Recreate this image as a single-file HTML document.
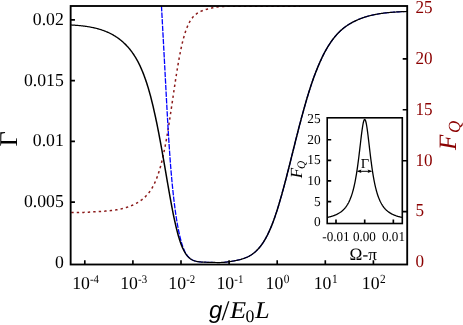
<!DOCTYPE html>
<html><head><meta charset="utf-8"><title>plot</title>
<style>
html,body{margin:0;padding:0;background:#fff;}
svg{display:block;will-change:transform;}
text{font-family:"Liberation Serif",serif;text-rendering:geometricPrecision;}
.i{font-style:italic;}
.s{font-family:"Liberation Sans",sans-serif;font-style:italic;}
</style></head><body>
<svg width="463" height="325" viewBox="0 0 463 325">
<rect width="463" height="325" fill="#fff"/>
<defs><clipPath id="c"><rect x="70.65" y="6.0" width="336.54999999999995" height="258.5"/></clipPath></defs>
<g clip-path="url(#c)" fill="none" stroke-linejoin="round">
<path d="M70.70,212.49 L70.95,212.49 L71.20,212.49 L71.45,212.49 L71.70,212.49 L71.95,212.49 L72.20,212.49 L72.45,212.49 L72.70,212.49 L72.95,212.49 L73.20,212.49 L73.45,212.49 L73.70,212.49 L73.95,212.49 L74.20,212.49 L74.45,212.49 L74.70,212.49 L74.95,212.49 L75.20,212.49 L75.45,212.49 L75.70,212.49 L75.95,212.49 L76.20,212.49 L76.45,212.49 L76.70,212.49 L76.95,212.49 L77.20,212.49 L77.45,212.48 L77.70,212.48 L77.95,212.48 L78.20,212.48 L78.45,212.48 L78.70,212.48 L78.95,212.48 L79.20,212.47 L79.45,212.47 L79.70,212.47 L79.95,212.47 L80.20,212.46 L80.45,212.46 L80.70,212.46 L80.95,212.45 L81.20,212.45 L81.45,212.44 L81.70,212.44 L81.95,212.43 L82.20,212.43 L82.45,212.42 L82.70,212.41 L82.95,212.41 L83.20,212.40 L83.45,212.39 L83.70,212.39 L83.95,212.38 L84.20,212.37 L84.45,212.36 L84.70,212.35 L84.95,212.34 L85.20,212.33 L85.45,212.32 L85.70,212.31 L85.95,212.30 L86.20,212.29 L86.45,212.28 L86.70,212.26 L86.95,212.25 L87.20,212.24 L87.45,212.23 L87.70,212.21 L87.95,212.20 L88.20,212.18 L88.45,212.17 L88.70,212.16 L88.95,212.14 L89.20,212.13 L89.45,212.11 L89.70,212.10 L89.95,212.08 L90.20,212.07 L90.45,212.05 L90.70,212.04 L90.95,212.02 L91.20,212.01 L91.45,211.99 L91.70,211.98 L91.95,211.96 L92.20,211.95 L92.45,211.93 L92.70,211.92 L92.95,211.90 L93.20,211.89 L93.45,211.87 L93.70,211.86 L93.95,211.84 L94.20,211.82 L94.45,211.81 L94.70,211.79 L94.95,211.78 L95.20,211.76 L95.45,211.75 L95.70,211.73 L95.95,211.72 L96.20,211.70 L96.45,211.69 L96.70,211.67 L96.95,211.66 L97.20,211.64 L97.45,211.62 L97.70,211.61 L97.95,211.59 L98.20,211.58 L98.45,211.56 L98.70,211.55 L98.95,211.53 L99.20,211.52 L99.45,211.50 L99.70,211.48 L99.95,211.47 L100.20,211.45 L100.45,211.44 L100.70,211.42 L100.95,211.40 L101.20,211.39 L101.45,211.37 L101.70,211.36 L101.95,211.34 L102.20,211.32 L102.45,211.31 L102.70,211.29 L102.95,211.27 L103.20,211.25 L103.45,211.24 L103.70,211.22 L103.95,211.20 L104.20,211.18 L104.45,211.16 L104.70,211.14 L104.95,211.13 L105.20,211.11 L105.45,211.09 L105.70,211.07 L105.95,211.05 L106.20,211.03 L106.45,211.01 L106.70,210.98 L106.95,210.96 L107.20,210.94 L107.45,210.92 L107.70,210.90 L107.95,210.87 L108.20,210.85 L108.45,210.83 L108.70,210.80 L108.95,210.78 L109.20,210.75 L109.45,210.73 L109.70,210.70 L109.95,210.68 L110.20,210.65 L110.45,210.62 L110.70,210.60 L110.95,210.57 L111.20,210.54 L111.45,210.51 L111.70,210.48 L111.95,210.45 L112.20,210.42 L112.45,210.39 L112.70,210.36 L112.95,210.33 L113.20,210.29 L113.45,210.26 L113.70,210.23 L113.95,210.19 L114.20,210.16 L114.45,210.12 L114.70,210.08 L114.95,210.05 L115.20,210.01 L115.45,209.97 L115.70,209.93 L115.95,209.89 L116.20,209.85 L116.45,209.81 L116.70,209.77 L116.95,209.72 L117.20,209.68 L117.45,209.64 L117.70,209.59 L117.95,209.55 L118.20,209.50 L118.45,209.45 L118.70,209.40 L118.95,209.35 L119.20,209.30 L119.45,209.25 L119.70,209.20 L119.95,209.15 L120.20,209.10 L120.45,209.04 L120.70,208.99 L120.95,208.93 L121.20,208.87 L121.45,208.82 L121.70,208.76 L121.95,208.70 L122.20,208.64 L122.45,208.58 L122.70,208.51 L122.95,208.45 L123.20,208.39 L123.45,208.32 L123.70,208.25 L123.95,208.19 L124.20,208.12 L124.45,208.05 L124.70,207.98 L124.95,207.91 L125.20,207.83 L125.45,207.76 L125.70,207.68 L125.95,207.61 L126.20,207.53 L126.45,207.45 L126.70,207.37 L126.95,207.29 L127.20,207.21 L127.45,207.13 L127.70,207.04 L127.95,206.96 L128.20,206.87 L128.45,206.78 L128.70,206.70 L128.95,206.61 L129.20,206.51 L129.45,206.42 L129.70,206.33 L129.95,206.23 L130.20,206.14 L130.45,206.04 L130.70,205.94 L130.95,205.84 L131.20,205.74 L131.45,205.63 L131.70,205.53 L131.95,205.42 L132.20,205.31 L132.45,205.20 L132.70,205.09 L132.95,204.98 L133.20,204.87 L133.45,204.75 L133.70,204.64 L133.95,204.52 L134.20,204.40 L134.45,204.27 L134.70,204.15 L134.95,204.03 L135.20,203.90 L135.45,203.77 L135.70,203.64 L135.95,203.51 L136.20,203.37 L136.45,203.24 L136.70,203.10 L136.95,202.96 L137.20,202.82 L137.45,202.67 L137.70,202.52 L137.95,202.38 L138.20,202.22 L138.45,202.07 L138.70,201.92 L138.95,201.76 L139.20,201.60 L139.45,201.44 L139.70,201.27 L139.95,201.10 L140.20,200.93 L140.45,200.76 L140.70,200.58 L140.95,200.40 L141.20,200.22 L141.45,200.04 L141.70,199.85 L141.95,199.66 L142.20,199.46 L142.45,199.27 L142.70,199.07 L142.95,198.86 L143.20,198.65 L143.45,198.44 L143.70,198.23 L143.95,198.01 L144.20,197.78 L144.45,197.56 L144.70,197.33 L144.95,197.09 L145.20,196.85 L145.45,196.61 L145.70,196.36 L145.95,196.10 L146.20,195.84 L146.45,195.58 L146.70,195.31 L146.95,195.04 L147.20,194.76 L147.45,194.47 L147.70,194.18 L147.95,193.88 L148.20,193.58 L148.45,193.27 L148.70,192.96 L148.95,192.63 L149.20,192.31 L149.45,191.97 L149.70,191.63 L149.95,191.28 L150.20,190.92 L150.45,190.55 L150.70,190.18 L150.95,189.80 L151.20,189.41 L151.45,189.01 L151.70,188.60 L151.95,188.19 L152.20,187.76 L152.45,187.33 L152.70,186.88 L152.95,186.43 L153.20,185.96 L153.45,185.49 L153.70,185.00 L153.95,184.50 L154.20,184.00 L154.45,183.47 L154.70,182.94 L154.95,182.40 L155.20,181.84 L155.45,181.27 L155.70,180.69 L155.95,180.09 L156.20,179.48 L156.45,178.86 L156.70,178.22 L156.95,177.57 L157.20,176.90 L157.45,176.22 L157.70,175.52 L157.95,174.80 L158.20,174.07 L158.45,173.33 L158.70,172.56 L158.95,171.78 L159.20,170.98 L159.45,170.16 L159.70,169.33 L159.95,168.48 L160.20,167.60 L160.45,166.71 L160.70,165.80 L160.95,164.87 L161.20,163.92 L161.45,162.95 L161.70,161.96 L161.95,160.95 L162.20,159.92 L162.45,158.87 L162.70,157.80 L162.95,156.70 L163.20,155.59 L163.45,154.45 L163.70,153.29 L163.95,152.11 L164.20,150.91 L164.45,149.69 L164.70,148.44 L164.95,147.17 L165.20,145.89 L165.45,144.58 L165.70,143.25 L165.95,141.89 L166.20,140.52 L166.45,139.13 L166.70,137.71 L166.95,136.28 L167.20,134.83 L167.45,133.36 L167.70,131.87 L167.95,130.36 L168.20,128.83 L168.45,127.29 L168.70,125.73 L168.95,124.15 L169.20,122.56 L169.45,120.95 L169.70,119.34 L169.95,117.70 L170.20,116.06 L170.45,114.41 L170.70,112.74 L170.95,111.07 L171.20,109.39 L171.45,107.70 L171.70,106.01 L171.95,104.31 L172.20,102.61 L172.45,100.91 L172.70,99.20 L172.95,97.50 L173.20,95.79 L173.45,94.09 L173.70,92.39 L173.95,90.70 L174.20,89.01 L174.45,87.33 L174.70,85.65 L174.95,83.99 L175.20,82.33 L175.45,80.69 L175.70,79.06 L175.95,77.44 L176.20,75.83 L176.45,74.25 L176.70,72.67 L176.95,71.12 L177.20,69.58 L177.45,68.06 L177.70,66.56 L177.95,65.08 L178.20,63.62 L178.45,62.19 L178.70,60.77 L178.95,59.38 L179.20,58.01 L179.45,56.66 L179.70,55.34 L179.95,54.04 L180.20,52.77 L180.45,51.52 L180.70,50.30 L180.95,49.10 L181.20,47.93 L181.45,46.78 L181.70,45.66 L181.95,44.56 L182.20,43.49 L182.45,42.44 L182.70,41.42 L182.95,40.42 L183.20,39.45 L183.45,38.50 L183.70,37.58 L183.95,36.68 L184.20,35.81 L184.45,34.96 L184.70,34.13 L184.95,33.32 L185.20,32.54 L185.45,31.78 L185.70,31.04 L185.95,30.32 L186.20,29.62 L186.45,28.94 L186.70,28.28 L186.95,27.65 L187.20,27.03 L187.45,26.43 L187.70,25.85 L187.95,25.28 L188.20,24.74 L188.45,24.21 L188.70,23.69 L188.95,23.20 L189.20,22.71 L189.45,22.25 L189.70,21.80 L189.95,21.36 L190.20,20.94 L190.45,20.53 L190.70,20.13 L190.95,19.75 L191.20,19.38 L191.45,19.02 L191.70,18.67 L191.95,18.33 L192.20,18.01 L192.45,17.69 L192.70,17.39 L192.95,17.09 L193.20,16.81 L193.45,16.53 L193.70,16.27 L193.95,16.01 L194.20,15.76 L194.45,15.51 L194.70,15.28 L194.95,15.05 L195.20,14.83 L195.45,14.62 L195.70,14.42 L195.95,14.22 L196.20,14.02 L196.45,13.84 L196.70,13.65 L196.95,13.48 L197.20,13.31 L197.45,13.14 L197.70,12.98 L197.95,12.83 L198.20,12.68 L198.45,12.53 L198.70,12.39 L198.95,12.25 L199.20,12.12 L199.45,11.99 L199.70,11.86 L199.95,11.74 L200.20,11.62 L200.45,11.50 L200.70,11.39 L200.95,11.28 L201.20,11.17 L201.45,11.06 L201.70,10.96 L201.95,10.86 L202.20,10.76 L202.45,10.67 L202.70,10.58 L202.95,10.48 L203.20,10.39 L203.45,10.31 L203.70,10.22 L203.95,10.14 L204.20,10.05 L204.45,9.97 L204.70,9.89 L204.95,9.82 L205.20,9.74 L205.45,9.66 L205.70,9.59 L205.95,9.51 L206.20,9.44 L206.45,9.37 L206.70,9.30 L206.95,9.23 L207.20,9.16 L207.45,9.09 L207.70,9.02 L207.95,8.96 L208.20,8.89 L208.45,8.83 L208.70,8.76 L208.95,8.70 L209.20,8.63 L209.45,8.57 L209.70,8.51 L209.95,8.44 L210.20,8.38 L210.45,8.32 L210.70,8.26 L210.95,8.20 L211.20,8.14 L211.45,8.08 L211.70,8.02 L211.95,7.96 L212.20,7.90 L212.45,7.85 L212.70,7.79 L212.95,7.74 L213.20,7.68 L213.45,7.63 L213.70,7.57 L213.95,7.52 L214.20,7.47 L214.45,7.42 L214.70,7.37 L214.95,7.32 L215.20,7.27 L215.45,7.22 L215.70,7.18 L215.95,7.13 L216.20,7.09 L216.45,7.05 L216.70,7.01 L216.95,6.97 L217.20,6.93 L217.45,6.89 L217.70,6.85 L217.95,6.82 L218.20,6.79 L218.45,6.76 L218.70,6.73 L218.95,6.70 L219.20,6.67 L219.45,6.65 L219.70,6.62 L219.95,6.60 L220.20,6.58 L220.45,6.56 L220.70,6.54 L220.95,6.52 L221.20,6.51 L221.45,6.49 L221.70,6.48 L221.95,6.47 L222.20,6.46 L222.45,6.44 L222.70,6.44 L222.95,6.43 L223.20,6.42 L223.45,6.41 L223.70,6.41 L223.95,6.40 L224.20,6.40 L224.45,6.39 L224.70,6.39 L224.95,6.39 L225.20,6.38 L225.45,6.38 L225.70,6.38 L225.95,6.38 L226.20,6.38 L226.45,6.37 L226.70,6.37 L226.95,6.37 L227.20,6.37 L227.45,6.37 L227.70,6.37 L227.95,6.37 L228.20,6.37 L228.45,6.37 L228.70,6.37 L228.95,6.37 L229.20,6.37 L229.45,6.37 L229.70,6.37 L229.95,6.37 L230.20,6.37 L230.45,6.37 L230.70,6.37 L230.95,6.37 L231.20,6.37 L231.45,6.37 L231.70,6.37 L231.95,6.37 L232.20,6.37 L232.45,6.37 L232.70,6.37 L232.95,6.37 L233.20,6.37 L233.45,6.37 L233.70,6.37 L233.95,6.37 L234.20,6.37 L234.45,6.37 L234.70,6.37 L234.95,6.37 L235.20,6.37 L235.45,6.37 L235.70,6.37 L235.95,6.37 L236.20,6.37 L236.45,6.37 L236.70,6.37 L236.95,6.37 L237.20,6.37 L237.45,6.37 L237.70,6.37 L237.95,6.37 L238.20,6.37 L238.45,6.37 L238.70,6.37 L238.95,6.37 L239.20,6.37 L239.45,6.37 L239.70,6.37 L239.95,6.37 L240.20,6.37 L240.45,6.37 L240.70,6.37 L240.95,6.37 L241.20,6.37 L241.45,6.37 L241.70,6.37 L241.95,6.37 L242.20,6.37 L242.45,6.37 L242.70,6.37 L242.95,6.37 L243.20,6.37 L243.45,6.37 L243.70,6.37 L243.95,6.37 L244.20,6.37 L244.45,6.37 L244.70,6.37 L244.95,6.37 L245.20,6.37 L245.45,6.37 L245.70,6.37 L245.95,6.37 L246.20,6.37 L246.45,6.37 L246.70,6.37 L246.95,6.37 L247.20,6.37 L247.45,6.37 L247.70,6.37 L247.95,6.37 L248.20,6.37 L248.45,6.37 L248.70,6.37 L248.95,6.37 L249.20,6.37 L249.45,6.37 L249.70,6.37 L249.95,6.37 L250.20,6.37 L250.45,6.37 L250.70,6.37 L250.95,6.37 L251.20,6.37 L251.45,6.37 L251.70,6.37 L251.95,6.37 L252.20,6.37 L252.45,6.37 L252.70,6.37 L252.95,6.37 L253.20,6.37 L253.45,6.37 L253.70,6.37 L253.95,6.37 L254.20,6.37 L254.45,6.37 L254.70,6.37 L254.95,6.37 L255.20,6.37 L255.45,6.37 L255.70,6.37 L255.95,6.37 L256.20,6.37 L256.45,6.37 L256.70,6.37 L256.95,6.37 L257.20,6.37 L257.45,6.37 L257.70,6.37 L257.95,6.37 L258.20,6.37 L258.45,6.37 L258.70,6.37 L258.95,6.37 L259.20,6.37 L259.45,6.37 L259.70,6.37 L259.95,6.37 L260.20,6.37 L260.45,6.37 L260.70,6.37 L260.95,6.37 L261.20,6.37 L261.45,6.37 L261.70,6.37 L261.95,6.37 L262.20,6.37 L262.45,6.37 L262.70,6.37 L262.95,6.37 L263.20,6.37 L263.45,6.37 L263.70,6.37 L263.95,6.37 L264.20,6.37 L264.45,6.37 L264.70,6.37 L264.95,6.37 L265.20,6.37 L265.45,6.37 L265.70,6.37 L265.95,6.37 L266.20,6.37 L266.45,6.37 L266.70,6.37 L266.95,6.37 L267.20,6.37 L267.45,6.37 L267.70,6.37 L267.95,6.37 L268.20,6.37 L268.45,6.37 L268.70,6.37 L268.95,6.37 L269.20,6.37 L269.45,6.37 L269.70,6.37 L269.95,6.37 L270.20,6.37 L270.45,6.37 L270.70,6.37 L270.95,6.37 L271.20,6.37 L271.45,6.37 L271.70,6.37 L271.95,6.37 L272.20,6.37 L272.45,6.37 L272.70,6.37 L272.95,6.37 L273.20,6.37 L273.45,6.37 L273.70,6.37 L273.95,6.37 L274.20,6.37 L274.45,6.37 L274.70,6.37 L274.95,6.37 L275.20,6.37 L275.45,6.37 L275.70,6.37 L275.95,6.37 L276.20,6.37 L276.45,6.37 L276.70,6.37 L276.95,6.37 L277.20,6.37 L277.45,6.37 L277.70,6.37 L277.95,6.37 L278.20,6.37 L278.45,6.37 L278.70,6.37 L278.95,6.37 L279.20,6.37 L279.45,6.37 L279.70,6.37 L279.95,6.37 L280.20,6.37 L280.45,6.37 L280.70,6.37 L280.95,6.37 L281.20,6.37 L281.45,6.37 L281.70,6.37 L281.95,6.37 L282.20,6.37 L282.45,6.37 L282.70,6.37 L282.95,6.37 L283.20,6.37 L283.45,6.37 L283.70,6.37 L283.95,6.37 L284.20,6.37 L284.45,6.37 L284.70,6.37 L284.95,6.37 L285.20,6.37 L285.45,6.37 L285.70,6.37 L285.95,6.37 L286.20,6.37 L286.45,6.37 L286.70,6.37 L286.95,6.37 L287.20,6.37 L287.45,6.37 L287.70,6.37 L287.95,6.37 L288.20,6.37 L288.45,6.37 L288.70,6.37 L288.95,6.37 L289.20,6.37 L289.45,6.37 L289.70,6.37 L289.95,6.37 L290.20,6.37 L290.45,6.37 L290.70,6.37 L290.95,6.37 L291.20,6.37 L291.45,6.37 L291.70,6.37 L291.95,6.37 L292.20,6.37 L292.45,6.37 L292.70,6.37 L292.95,6.37 L293.20,6.37 L293.45,6.37 L293.70,6.37 L293.95,6.37 L294.20,6.37 L294.45,6.37 L294.70,6.37 L294.95,6.37 L295.20,6.37 L295.45,6.37 L295.70,6.37 L295.95,6.37 L296.20,6.37 L296.45,6.37 L296.70,6.37 L296.95,6.37 L297.20,6.37 L297.45,6.37 L297.70,6.37 L297.95,6.37 L298.20,6.37 L298.45,6.37 L298.70,6.37 L298.95,6.37 L299.20,6.37 L299.45,6.37 L299.70,6.37 L299.95,6.37" stroke="#8b1a1a" stroke-width="1.5" stroke-dasharray="2.4 3.1" stroke-dashoffset="-0.55"/>
<path d="M161.37,4.00 L161.40,4.50 L161.42,5.00 L161.45,5.50 L161.48,6.00 L161.50,6.50 L161.53,7.00 L161.56,7.50 L161.58,8.00 L161.61,8.50 L161.64,9.00 L161.66,9.50 L161.69,10.00 L161.72,10.50 L161.74,11.00 L161.77,11.50 L161.80,12.00 L161.82,12.50 L161.85,13.00 L161.88,13.50 L161.90,14.00 L161.93,14.50 L161.96,15.00 L161.98,15.50 L162.01,16.00 L162.04,16.50 L162.06,17.00 L162.09,17.50 L162.12,18.00 L162.15,18.50 L162.17,19.00 L162.20,19.50 L162.23,20.00 L162.25,20.50 L162.28,21.00 L162.31,21.50 L162.33,22.00 L162.36,22.50 L162.39,23.00 L162.42,23.50 L162.44,24.00 L162.47,24.50 L162.50,25.00 L162.52,25.50 L162.55,26.00 L162.58,26.50 L162.61,27.00 L162.63,27.50 L162.66,28.00 L162.69,28.50 L162.71,29.00 L162.74,29.50 L162.77,30.00 L162.80,30.50 L162.82,31.00 L162.85,31.50 L162.88,32.00 L162.90,32.50 L162.93,33.00 L162.96,33.50 L162.99,34.00 L163.01,34.50 L163.04,35.00 L163.07,35.50 L163.09,36.00 L163.12,36.50 L163.15,37.00 L163.18,37.50 L163.20,38.00 L163.23,38.50 L163.26,39.00 L163.28,39.50 L163.31,40.00 L163.34,40.50 L163.36,41.00 L163.39,41.50 L163.42,42.00 L163.45,42.50 L163.47,43.00 L163.50,43.50 L163.53,44.00 L163.55,44.50 L163.58,45.00 L163.61,45.50 L163.63,46.00 L163.66,46.50 L163.69,47.00 L163.72,47.50 L163.74,48.00 L163.77,48.50 L163.80,49.00 L163.82,49.50 L163.85,50.00 L163.88,50.50 L163.90,51.00 L163.93,51.50 L163.96,52.00 L163.98,52.50 L164.01,53.00 L164.04,53.50 L164.06,54.00 L164.09,54.50 L164.12,55.00 L164.15,55.50 L164.17,56.00 L164.20,56.50 L164.23,57.00 L164.25,57.50 L164.28,58.00 L164.31,58.50 L164.33,59.00 L164.36,59.50 L164.39,60.00 L164.41,60.50 L164.44,61.00 L164.47,61.50 L164.49,62.00 L164.52,62.50 L164.55,63.00 L164.57,63.50 L164.60,64.00 L164.63,64.50 L164.65,65.00 L164.68,65.50 L164.70,66.00 L164.73,66.50 L164.76,67.00 L164.78,67.50 L164.81,68.00 L164.84,68.50 L164.86,69.00 L164.89,69.50 L164.92,70.00 L164.94,70.50 L164.97,71.00 L165.00,71.50 L165.02,72.00 L165.05,72.50 L165.08,73.00 L165.10,73.50 L165.13,74.00 L165.15,74.50 L165.18,75.00 L165.21,75.50 L165.23,76.00 L165.26,76.50 L165.29,77.00 L165.31,77.50 L165.34,78.00 L165.37,78.50 L165.39,79.00 L165.42,79.50 L165.44,80.00 L165.47,80.50 L165.50,81.00 L165.52,81.50 L165.55,82.00 L165.58,82.50 L165.60,83.00 L165.63,83.50 L165.66,84.00 L165.68,84.50 L165.71,85.00 L165.73,85.50 L165.76,86.00 L165.79,86.50 L165.81,87.00 L165.84,87.50 L165.87,88.00 L165.89,88.50 L165.92,89.00 L165.95,89.50 L165.97,90.00 L166.00,90.50 L166.02,91.00 L166.05,91.50 L166.08,92.00 L166.10,92.50 L166.13,93.00 L166.16,93.50 L166.18,94.00 L166.21,94.50 L166.24,95.00 L166.26,95.50 L166.29,96.00 L166.32,96.50 L166.34,97.00 L166.37,97.50 L166.40,98.00 L166.42,98.50 L166.45,99.00 L166.48,99.50 L166.50,100.00 L166.53,100.50 L166.56,101.00 L166.58,101.50 L166.61,102.00 L166.64,102.50 L166.66,103.00 L166.69,103.50 L166.72,104.00 L166.75,104.50 L166.77,105.00 L166.80,105.50 L166.83,106.00 L166.85,106.50 L166.88,107.00 L166.91,107.50 L166.93,108.00 L166.96,108.50 L166.99,109.00 L167.02,109.50 L167.04,110.00 L167.07,110.50 L167.10,111.00 L167.13,111.50 L167.15,112.00 L167.18,112.50 L167.21,113.00 L167.24,113.50 L167.26,114.00 L167.29,114.50 L167.32,115.00 L167.35,115.50 L167.38,116.00 L167.40,116.50 L167.43,117.00 L167.46,117.50 L167.49,118.00 L167.52,118.50 L167.54,119.00 L167.57,119.50 L167.60,120.00 L167.63,120.50 L167.66,121.00 L167.69,121.50 L167.71,122.00 L167.74,122.50 L167.77,123.00 L167.80,123.50 L167.83,124.00 L167.86,124.50 L167.89,125.00 L167.92,125.50 L167.95,126.00 L167.98,126.50 L168.00,127.00 L168.03,127.50 L168.06,128.00 L168.09,128.50 L168.12,129.00 L168.15,129.50 L168.18,130.00 L168.21,130.50 L168.24,131.00 L168.27,131.50 L168.30,132.00 L168.33,132.50 L168.36,133.00 L168.39,133.50 L168.42,134.00 L168.45,134.50 L168.48,135.00 L168.52,135.50 L168.55,136.00 L168.58,136.50 L168.61,137.00 L168.64,137.50 L168.67,138.00 L168.70,138.50 L168.73,139.00 L168.77,139.50 L168.80,140.00 L168.83,140.50 L168.86,141.00 L168.89,141.50 L168.93,142.00 L168.96,142.50 L168.99,143.00 L169.02,143.50 L169.06,144.00 L169.09,144.50 L169.12,145.00 L169.15,145.50 L169.19,146.00 L169.22,146.50 L169.25,147.00 L169.29,147.50 L169.32,148.00 L169.36,148.50 L169.39,149.00 L169.42,149.50 L169.46,150.00 L169.49,150.50 L169.53,151.00 L169.56,151.50 L169.60,152.00 L169.63,152.50 L169.67,153.00 L169.70,153.50 L169.74,154.00 L169.77,154.50 L169.81,155.00 L169.85,155.50 L169.88,156.00 L169.92,156.50 L169.95,157.00 L169.99,157.50 L170.03,158.00 L170.06,158.50 L170.10,159.00 L170.14,159.50 L170.18,160.00 L170.21,160.50 L170.25,161.00 L170.29,161.50 L170.33,162.00 L170.37,162.50 L170.41,163.00 L170.44,163.50 L170.48,164.00 L170.52,164.50 L170.56,165.00 L170.60,165.50 L170.64,166.00 L170.68,166.50 L170.72,167.00 L170.76,167.50 L170.80,168.00 L170.84,168.50 L170.88,169.00 L170.92,169.50 L170.97,170.00 L171.01,170.50 L171.05,171.00 L171.09,171.50 L171.13,172.00 L171.18,172.50 L171.22,173.00 L171.26,173.50 L171.31,174.00 L171.35,174.50 L171.39,175.00 L171.44,175.50 L171.48,176.00 L171.53,176.50 L171.57,177.00 L171.62,177.50 L171.66,178.00 L171.71,178.50 L171.75,179.00 L171.80,179.50 L171.84,180.00 L171.89,180.50 L171.94,181.00 L171.98,181.50 L172.03,182.00 L172.08,182.50 L172.13,183.00 L172.17,183.50 L172.22,184.00 L172.27,184.50 L172.32,185.00 L172.37,185.50 L172.42,186.00 L172.47,186.50 L172.52,187.00 L172.57,187.50 L172.62,188.00 L172.67,188.50 L172.72,189.00 L172.77,189.50 L172.82,190.00 L172.88,190.50 L172.93,191.00 L172.98,191.50 L173.03,192.00 L173.09,192.50 L173.14,193.00 L173.19,193.50 L173.25,194.00 L173.30,194.50 L173.36,195.00 L173.41,195.50 L173.47,196.00 L173.53,196.50 L173.58,197.00 L173.64,197.50 L173.70,198.00 L173.75,198.50 L173.81,199.00 L173.87,199.50 L173.93,200.00 L173.99,200.50 L174.04,201.00 L174.10,201.50 L174.16,202.00 L174.23,202.50 L174.29,203.00 L174.35,203.50 L174.41,204.00 L174.47,204.50 L174.53,205.00 L174.60,205.50 L174.66,206.00 L174.73,206.50 L174.79,207.00 L174.85,207.50 L174.92,208.00 L174.99,208.50 L175.05,209.00 L175.12,209.50 L175.19,210.00 L175.26,210.50 L175.33,211.00 L175.40,211.50 L175.46,212.00 L175.53,212.50 L175.61,213.00 L175.68,213.50 L175.75,214.00 L175.82,214.50 L175.90,215.00 L175.97,215.50 L176.05,216.00 L176.12,216.50 L176.20,217.00 L176.28,217.50 L176.36,218.00 L176.43,218.50 L176.51,219.00 L176.59,219.50 L176.67,220.00 L176.76,220.50 L176.84,221.00 L176.92,221.50 L177.01,222.00 L177.09,222.50 L177.18,223.00 L177.26,223.50 L177.35,224.00 L177.44,224.50 L177.53,225.00 L177.62,225.50 L177.71,226.00 L177.80,226.50 L177.89,227.00 L177.99,227.50 L178.08,228.00 L178.18,228.50 L178.27,229.00 L178.37,229.50 L178.47,230.00 L178.57,230.50 L178.67,231.00 L178.77,231.50 L178.88,232.00 L178.98,232.50 L179.09,233.00 L179.20,233.50 L179.31,234.00 L179.42,234.50 L179.53,235.00 L179.65,235.50 L179.76,236.00 L179.88,236.50 L180.00,237.00 L180.12,237.50 L180.24,238.00 L180.37,238.50 L180.49,239.00 L180.62,239.50 L180.75,240.00 L180.89,240.50 L181.02,241.00 L181.16,241.50 L181.30,242.00 L181.44,242.50 L181.59,243.00 L181.74,243.50 L181.89,244.00 L182.05,244.50 L182.21,245.00 L182.38,245.50 L182.55,246.00 L182.72,246.50 L182.91,247.00 L183.09,247.50 L183.28,248.00 L183.48,248.50 L183.68,249.00 L183.89,249.50 L184.11,250.00 L184.34,250.50 L184.57,251.00 L184.81,251.50 L185.06,252.00 L185.33,252.50 L185.61,253.00 L185.90,253.50 L186.20,254.00 L186.53,254.50 L186.87,255.00 L187.24,255.50 L187.63,256.00 L188.06,256.50 L188.51,257.00 L189.00,257.50 L189.54,258.00 L190.14,258.50 L190.81,259.00 L191.58,259.50 L192.49,260.00 L193.60,260.50 L195.03,261.00 L197.11,261.50" stroke="#0000ff" stroke-width="1.3" stroke-dasharray="5.4 1.185" stroke-dashoffset="-2.0"/>
<g transform="scale(1,0.82)">
<path d="M197.41,318.97 L197.91,319.07 L198.41,319.16 L198.91,319.24 L199.41,319.31 L199.91,319.37 L200.41,319.43 L200.91,319.49 L201.41,319.54 L201.91,319.58 L202.41,319.62 L202.91,319.65 L203.41,319.68 L203.91,319.71 L204.41,319.74 L204.91,319.76 L205.41,319.78 L205.91,319.80 L206.41,319.81 L206.91,319.83 L207.41,319.84 L207.91,319.86 L208.41,319.87 L208.91,319.89 L209.41,319.90 L209.91,319.92 L210.41,319.93 L210.91,319.95 L211.41,319.97 L211.91,319.98 L212.41,320.00 L212.91,320.02 L213.41,320.04 L213.91,320.05 L214.41,320.07 L214.91,320.09 L215.41,320.10 L215.91,320.12 L216.41,320.13 L216.91,320.14 L217.41,320.15 L217.91,320.15 L218.41,320.16 L218.91,320.16 L219.41,320.15 L219.91,320.14 L220.41,320.13 L220.91,320.11 L221.41,320.09 L221.91,320.06 L222.41,320.03 L222.91,319.99 L223.41,319.95 L223.91,319.90 L224.41,319.85 L224.91,319.79 L225.41,319.73 L225.91,319.66 L226.41,319.59 L226.91,319.52 L227.41,319.44 L227.91,319.36 L228.41,319.27 L228.91,319.18 L229.41,319.09 L229.91,319.00 L230.41,318.91 L230.91,318.81 L231.41,318.71 L231.91,318.61 L232.41,318.50 L232.91,318.40 L233.41,318.29 L233.91,318.18 L234.41,318.07 L234.91,317.96 L235.41,317.84 L235.91,317.72 L236.41,317.59 L236.91,317.47 L237.41,317.34 L237.91,317.20 L238.41,317.06 L238.91,316.92 L239.41,316.77 L239.91,316.61 L240.41,316.45 L240.91,316.29 L241.41,316.11 L241.91,315.94 L242.41,315.75 L242.91,315.55 L243.41,315.35 L243.91,315.14 L244.41,314.92 L244.91,314.69 L245.41,314.45 L245.91,314.20 L246.41,313.94 L246.91,313.67 L247.41,313.39 L247.91,313.10 L248.41,312.79 L248.91,312.48 L249.41,312.14 L249.91,311.80 L250.41,311.44 L250.91,311.07 L251.41,310.68 L251.91,310.27 L252.41,309.85 L252.91,309.41 L253.41,308.96 L253.91,308.49 L254.41,307.99 L254.91,307.48 L255.41,306.95 L255.91,306.40 L256.41,305.83 L256.91,305.24 L257.41,304.62 L257.91,303.99 L258.41,303.32 L258.91,302.64 L259.41,301.93 L259.91,301.19 L260.41,300.43 L260.91,299.64 L261.41,298.83 L261.91,297.98 L262.41,297.11 L262.91,296.21 L263.41,295.28 L263.91,294.31 L264.41,293.32 L264.91,292.30 L265.41,291.24 L265.91,290.15 L266.41,289.03 L266.91,287.87 L267.41,286.68 L267.91,285.45 L268.41,284.19 L268.91,282.89 L269.41,281.56 L269.91,280.19 L270.41,278.79 L270.91,277.34 L271.41,275.86 L271.91,274.35 L272.41,272.79 L272.91,271.20 L273.41,269.57 L273.91,267.91 L274.41,266.20 L274.91,264.46 L275.41,262.68 L275.91,260.87 L276.41,259.02 L276.91,257.13 L277.41,255.21 L277.91,253.25 L278.41,251.26 L278.91,249.23 L279.41,247.18 L279.91,245.10 L280.41,243.00 L280.91,240.87 L281.41,238.73 L281.91,236.56 L282.41,234.37 L282.91,232.17 L283.41,229.95 L283.91,227.71 L284.41,225.45 L284.91,223.16 L285.41,220.85 L285.91,218.53 L286.41,216.19 L286.91,213.83 L287.41,211.45 L287.91,209.06 L288.41,206.66 L288.91,204.25 L289.41,201.82 L289.91,199.39 L290.41,196.95 L290.91,194.50 L291.41,192.05 L291.91,189.60 L292.41,187.14 L292.91,184.69 L293.41,182.24 L293.91,179.79 L294.41,177.34 L294.91,174.90 L295.41,172.47 L295.91,170.05 L296.41,167.63 L296.91,165.22 L297.41,162.83 L297.91,160.44 L298.41,158.07 L298.91,155.71 L299.41,153.36 L299.91,151.03 L300.41,148.72 L300.91,146.42 L301.41,144.14 L301.91,141.88 L302.41,139.64 L302.91,137.41 L303.41,135.19 L303.91,132.99 L304.41,130.82 L304.91,128.66 L305.41,126.51 L305.91,124.39 L306.41,122.29 L306.91,120.22 L307.41,118.17 L307.91,116.15 L308.41,114.16 L308.91,112.19 L309.41,110.25 L309.91,108.34 L310.41,106.46 L310.91,104.60 L311.41,102.77 L311.91,100.97 L312.41,99.20 L312.91,97.46 L313.41,95.74 L313.91,94.05 L314.41,92.39 L314.91,90.76 L315.41,89.16 L315.91,87.58 L316.41,86.03 L316.91,84.51 L317.41,83.01 L317.91,81.53 L318.41,80.08 L318.91,78.65 L319.41,77.24 L319.91,75.85 L320.41,74.48 L320.91,73.14 L321.41,71.82 L321.91,70.52 L322.41,69.25 L322.91,68.00 L323.41,66.78 L323.91,65.59 L324.41,64.42 L324.91,63.27 L325.41,62.15 L325.91,61.05 L326.41,59.97 L326.91,58.91 L327.41,57.88 L327.91,56.87 L328.41,55.88 L328.91,54.91 L329.41,53.96 L329.91,53.04 L330.41,52.13 L330.91,51.24 L331.41,50.37 L331.91,49.52 L332.41,48.69 L332.91,47.87 L333.41,47.08 L333.91,46.30 L334.41,45.54 L334.91,44.79 L335.41,44.07 L335.91,43.35 L336.41,42.66 L336.91,41.98 L337.41,41.31 L337.91,40.66 L338.41,40.02 L338.91,39.40 L339.41,38.80 L339.91,38.20 L340.41,37.63 L340.91,37.07 L341.41,36.52 L341.91,35.99 L342.41,35.47 L342.91,34.96 L343.41,34.46 L343.91,33.98 L344.41,33.51 L344.91,33.05 L345.41,32.60 L345.91,32.16 L346.41,31.72 L346.91,31.30 L347.41,30.89 L347.91,30.49 L348.41,30.10 L348.91,29.72 L349.41,29.34 L349.91,28.98 L350.41,28.62 L350.91,28.27 L351.41,27.93 L351.91,27.60 L352.41,27.27 L352.91,26.96 L353.41,26.65 L353.91,26.34 L354.41,26.04 L354.91,25.75 L355.41,25.46 L355.91,25.17 L356.41,24.89 L356.91,24.61 L357.41,24.33 L357.91,24.06 L358.41,23.80 L358.91,23.54 L359.41,23.29 L359.91,23.04 L360.41,22.80 L360.91,22.56 L361.41,22.33 L361.91,22.11 L362.41,21.89 L362.91,21.67 L363.41,21.46 L363.91,21.25 L364.41,21.05 L364.91,20.86 L365.41,20.67 L365.91,20.48 L366.41,20.29 L366.91,20.11 L367.41,19.94 L367.91,19.77 L368.41,19.60 L368.91,19.44 L369.41,19.28 L369.91,19.12 L370.41,18.97 L370.91,18.82 L371.41,18.68 L371.91,18.54 L372.41,18.40 L372.91,18.26 L373.41,18.13 L373.91,18.01 L374.41,17.88 L374.91,17.76 L375.41,17.64 L375.91,17.52 L376.41,17.41 L376.91,17.29 L377.41,17.18 L377.91,17.08 L378.41,16.97 L378.91,16.87 L379.41,16.77 L379.91,16.67 L380.41,16.58 L380.91,16.48 L381.41,16.39 L381.91,16.30 L382.41,16.22 L382.91,16.13 L383.41,16.05 L383.91,15.97 L384.41,15.89 L384.91,15.82 L385.41,15.75 L385.91,15.68 L386.41,15.61 L386.91,15.55 L387.41,15.48 L387.91,15.43 L388.41,15.37 L388.91,15.31 L389.41,15.26 L389.91,15.20 L390.41,15.15 L390.91,15.10 L391.41,15.05 L391.91,15.00 L392.41,14.95 L392.91,14.90 L393.41,14.86 L393.91,14.82 L394.41,14.77 L394.91,14.73 L395.41,14.69 L395.91,14.65 L396.41,14.61 L396.91,14.57 L397.41,14.54 L397.91,14.50 L398.41,14.46 L398.91,14.43 L399.41,14.40 L399.91,14.36 L400.41,14.33 L400.91,14.30 L401.41,14.27 L401.91,14.24 L402.41,14.21 L402.91,14.19 L403.41,14.16 L403.91,14.13 L404.41,14.11 L404.91,14.08 L405.41,14.06 L405.91,14.04 L406.41,14.01 L406.91,13.99 L407.41,13.97" stroke="#0000ff" stroke-width="1.3" stroke-dasharray="5.4 1.185"/>
<path d="M68.99,30.35 L69.49,30.38 L69.99,30.41 L70.48,30.44 L70.98,30.47 L71.48,30.50 L71.98,30.54 L72.48,30.57 L72.98,30.61 L73.48,30.65 L73.98,30.69 L74.48,30.73 L74.98,30.77 L75.48,30.82 L75.98,30.86 L76.48,30.91 L76.98,30.96 L77.47,31.01 L77.97,31.06 L78.47,31.11 L78.97,31.17 L79.47,31.23 L79.97,31.28 L80.47,31.35 L80.97,31.41 L81.47,31.47 L81.97,31.54 L82.47,31.61 L82.96,31.68 L83.46,31.76 L83.96,31.83 L84.46,31.91 L84.96,31.99 L85.46,32.07 L85.96,32.16 L86.46,32.25 L86.96,32.34 L87.45,32.43 L87.95,32.53 L88.45,32.63 L88.95,32.73 L89.45,32.83 L89.95,32.94 L90.45,33.05 L90.94,33.17 L91.44,33.28 L91.94,33.40 L92.44,33.53 L92.94,33.65 L93.44,33.79 L93.93,33.92 L94.43,34.06 L94.93,34.20 L95.43,34.34 L95.93,34.49 L96.43,34.65 L96.92,34.80 L97.42,34.96 L97.92,35.13 L98.42,35.30 L98.92,35.47 L99.41,35.65 L99.91,35.83 L100.41,36.02 L100.91,36.21 L101.41,36.41 L101.90,36.61 L102.40,36.82 L102.90,37.03 L103.40,37.25 L103.90,37.47 L104.39,37.70 L104.89,37.93 L105.39,38.17 L105.89,38.41 L106.38,38.66 L106.88,38.92 L107.38,39.18 L107.88,39.45 L108.38,39.72 L108.87,40.00 L109.37,40.29 L109.87,40.58 L110.37,40.88 L110.86,41.19 L111.36,41.51 L111.86,41.83 L112.36,42.16 L112.85,42.49 L113.35,42.84 L113.85,43.19 L114.35,43.55 L114.84,43.92 L115.34,44.30 L115.84,44.68 L116.34,45.08 L116.83,45.48 L117.33,45.89 L117.83,46.32 L118.32,46.75 L118.82,47.19 L119.32,47.64 L119.82,48.11 L120.31,48.58 L120.81,49.06 L121.31,49.56 L121.81,50.06 L122.30,50.58 L122.80,51.11 L123.30,51.66 L123.80,52.21 L124.29,52.78 L124.79,53.36 L125.29,53.96 L125.79,54.57 L126.29,55.19 L126.78,55.83 L127.28,56.49 L127.78,57.16 L128.28,57.85 L128.78,58.55 L129.27,59.28 L129.77,60.02 L130.27,60.78 L130.77,61.55 L131.27,62.35 L131.77,63.17 L132.27,64.01 L132.76,64.87 L133.26,65.75 L133.76,66.66 L134.26,67.59 L134.76,68.54 L135.26,69.52 L135.76,70.53 L136.26,71.56 L136.75,72.62 L137.25,73.71 L137.75,74.83 L138.24,75.98 L138.74,77.16 L139.24,78.38 L139.73,79.63 L140.23,80.91 L140.72,82.23 L141.22,83.58 L141.71,84.97 L142.21,86.40 L142.70,87.87 L143.19,89.38 L143.69,90.93 L144.18,92.52 L144.68,94.16 L145.17,95.84 L145.67,97.57 L146.16,99.35 L146.66,101.17 L147.15,103.05 L147.65,104.97 L148.14,106.95 L148.64,108.98 L149.13,111.07 L149.63,113.21 L150.12,115.41 L150.62,117.66 L151.11,119.98 L151.61,122.35 L152.10,124.78 L152.60,127.27 L153.10,129.82 L153.59,132.43 L154.09,135.10 L154.60,137.83 L155.10,140.62 L155.61,143.47 L156.11,146.38 L156.62,149.35 L157.13,152.38 L157.64,155.47 L158.15,158.61 L158.66,161.81 L159.17,165.06 L159.68,168.36 L160.20,171.71 L160.71,175.10 L161.22,178.54 L161.73,182.02 L162.25,185.53 L162.76,189.08 L163.27,192.65 L163.79,196.25 L164.30,199.86 L164.82,203.50 L165.33,207.14 L165.85,210.78 L166.36,214.43 L166.87,218.07 L167.38,221.70 L167.89,225.31 L168.40,228.90 L168.91,232.46 L169.42,235.98 L169.93,239.47 L170.43,242.91 L170.94,246.30 L171.44,249.63 L171.95,252.90 L172.46,256.10 L172.96,259.24 L173.47,262.29 L173.98,265.28 L174.48,268.17 L174.99,270.99 L175.49,273.71 L175.99,276.35 L176.50,278.90 L177.00,281.35 L177.50,283.71 L178.00,285.97 L178.50,288.14 L179.00,290.21 L179.50,292.19 L180.00,294.08 L180.50,295.85 L181.00,297.54 L181.50,299.14 L182.00,300.65 L182.50,302.08 L183.00,303.43 L183.50,304.69 L184.00,305.88 L184.50,307.00 L185.00,308.04 L185.50,309.02 L186.00,309.93 L186.50,310.77 L187.00,311.56 L187.50,312.29 L188.00,312.97 L188.50,313.59 L189.00,314.17 L189.50,314.70 L190.00,315.19 L190.50,315.64 L191.00,316.06 L191.50,316.43 L192.00,316.78 L192.50,317.09 L193.00,317.38 L193.50,317.64 L194.00,317.88 L194.50,318.09 L195.00,318.28 L195.50,318.46 L196.00,318.61 L196.50,318.75 L197.00,318.88 L197.50,318.99 L198.00,319.09 L198.50,319.18 L199.00,319.25 L199.50,319.32 L200.00,319.38 L200.50,319.44 L201.00,319.50 L201.50,319.55 L202.00,319.59 L202.50,319.63 L203.00,319.66 L203.50,319.69 L204.00,319.72 L204.50,319.74 L205.00,319.76 L205.50,319.78 L206.00,319.80 L206.50,319.82 L207.00,319.83 L207.50,319.85 L208.00,319.86 L208.50,319.88 L209.00,319.89 L209.50,319.91 L210.00,319.92 L210.50,319.94 L211.00,319.95 L211.50,319.97 L212.00,319.99 L212.50,320.00 L213.00,320.02 L213.50,320.04 L214.00,320.06 L214.50,320.07 L215.00,320.09 L215.50,320.11 L216.00,320.12 L216.50,320.13 L217.00,320.14 L217.50,320.15 L218.00,320.16 L218.50,320.16 L219.00,320.16 L219.50,320.15 L220.00,320.14 L220.50,320.13 L221.00,320.11 L221.50,320.08 L222.00,320.06 L222.50,320.02 L223.00,319.98 L223.50,319.94 L224.00,319.89 L224.50,319.84 L225.00,319.78 L225.50,319.72 L226.00,319.65 L226.50,319.58 L227.00,319.50 L227.50,319.42 L228.00,319.34 L228.50,319.26 L229.00,319.17 L229.50,319.08 L230.00,318.98 L230.50,318.89 L231.00,318.79 L231.50,318.69 L232.00,318.59 L232.50,318.49 L233.00,318.38 L233.50,318.27 L234.00,318.16 L234.50,318.05 L235.00,317.93 L235.50,317.82 L236.00,317.70 L236.50,317.57 L237.00,317.44 L237.50,317.31 L238.00,317.18 L238.50,317.04 L239.00,316.89 L239.50,316.74 L240.00,316.59 L240.50,316.42 L241.00,316.26 L241.50,316.08 L242.00,315.90 L242.50,315.71 L243.00,315.52 L243.50,315.31 L244.00,315.10 L244.50,314.88 L245.00,314.65 L245.50,314.41 L246.00,314.16 L246.50,313.90 L247.00,313.62 L247.50,313.34 L248.00,313.05 L248.50,312.74 L249.00,312.42 L249.50,312.08 L250.00,311.74 L250.50,311.37 L251.00,311.00 L251.50,310.61 L252.00,310.20 L252.50,309.78 L253.00,309.33 L253.50,308.88 L254.00,308.40 L254.50,307.91 L255.00,307.39 L255.50,306.86 L256.00,306.30 L256.50,305.73 L257.00,305.13 L257.50,304.51 L258.00,303.87 L258.50,303.20 L259.00,302.51 L259.50,301.80 L260.00,301.06 L260.50,300.29 L261.00,299.50 L261.50,298.68 L262.00,297.83 L262.50,296.95 L263.00,296.04 L263.50,295.11 L264.00,294.14 L264.50,293.14 L265.00,292.11 L265.50,291.05 L266.00,289.95 L266.50,288.82 L267.00,287.66 L267.50,286.46 L268.00,285.23 L268.50,283.96 L269.00,282.66 L269.50,281.32 L270.00,279.94 L270.50,278.53 L271.00,277.08 L271.50,275.59 L272.00,274.07 L272.50,272.51 L273.00,270.91 L273.50,269.28 L274.00,267.60 L274.50,265.89 L275.00,264.15 L275.50,262.36 L276.00,260.54 L276.50,258.68 L277.00,256.79 L277.50,254.86 L278.00,252.89 L278.50,250.90 L279.00,248.86 L279.50,246.80 L280.01,244.70 L280.51,242.57 L281.02,240.41 L281.53,238.22 L282.04,236.00 L282.55,233.76 L283.06,231.49 L283.58,229.19 L284.10,226.87 L284.61,224.52 L285.13,222.15 L285.65,219.76 L286.16,217.35 L286.68,214.92 L287.19,212.48 L287.71,210.02 L288.23,207.54 L288.74,205.05 L289.26,202.55 L289.78,200.04 L290.29,197.53 L290.81,195.00 L291.32,192.47 L291.84,189.94 L292.36,187.40 L292.87,184.86 L293.39,182.33 L293.91,179.79 L294.43,177.26 L294.94,174.73 L295.46,172.21 L295.98,169.70 L296.50,167.19 L297.02,164.70 L297.54,162.22 L298.05,159.75 L298.57,157.29 L299.09,154.85 L299.61,152.43 L300.13,150.02 L300.65,147.63 L301.16,145.26 L301.68,142.91 L302.20,140.58 L302.71,138.27 L303.23,135.99 L303.74,133.72 L304.25,131.49 L304.77,129.27 L305.28,127.08 L305.79,124.92 L306.29,122.78 L306.80,120.67 L307.31,118.58 L307.82,116.52 L308.32,114.50 L308.83,112.49 L309.34,110.52 L309.85,108.58 L310.35,106.66 L310.86,104.78 L311.37,102.92 L311.88,101.09 L312.38,99.29 L312.89,97.52 L313.40,95.78 L313.90,94.07 L314.41,92.39 L314.92,90.73 L315.42,89.11 L315.93,87.51 L316.44,85.95 L316.94,84.41 L317.45,82.90 L317.95,81.41 L318.45,79.96 L318.95,78.53 L319.45,77.12 L319.95,75.74 L320.44,74.39 L320.94,73.07 L321.43,71.76 L321.92,70.49 L322.41,69.24 L322.91,68.01 L323.40,66.81 L323.89,65.63 L324.38,64.48 L324.88,63.35 L325.37,62.24 L325.86,61.16 L326.35,60.09 L326.84,59.05 L327.33,58.03 L327.83,57.04 L328.32,56.06 L328.81,55.11 L329.30,54.17 L329.79,53.25 L330.28,52.36 L330.77,51.48 L331.26,50.62 L331.75,49.78 L332.24,48.96 L332.73,48.16 L333.22,47.37 L333.72,46.60 L334.21,45.84 L334.70,45.11 L335.19,44.39 L335.68,43.68 L336.17,42.99 L336.66,42.32 L337.15,41.66 L337.64,41.01 L338.13,40.38 L338.62,39.76 L339.11,39.16 L339.60,38.57 L340.09,37.99 L340.58,37.43 L341.08,36.88 L341.57,36.35 L342.06,35.82 L342.56,35.31 L343.05,34.82 L343.55,34.33 L344.04,33.86 L344.53,33.39 L345.03,32.94 L345.52,32.49 L346.02,32.06 L346.51,31.64 L347.01,31.22 L347.50,30.82 L347.99,30.42 L348.49,30.04 L348.98,29.66 L349.48,29.29 L349.97,28.93 L350.46,28.58 L350.96,28.24 L351.45,27.90 L351.94,27.58 L352.44,27.26 L352.93,26.94 L353.42,26.64 L353.92,26.34 L354.41,26.04 L354.90,25.75 L355.39,25.47 L355.88,25.19 L356.37,24.91 L356.86,24.64 L357.35,24.37 L357.84,24.10 L358.32,23.84 L358.81,23.59 L359.30,23.34 L359.79,23.10 L360.28,22.86 L360.77,22.63 L361.26,22.40 L361.75,22.18 L362.24,21.96 L362.73,21.75 L363.22,21.54 L363.71,21.33 L364.20,21.13 L364.70,20.94 L365.19,20.75 L365.68,20.56 L366.17,20.38 L366.67,20.20 L367.16,20.03 L367.65,19.86 L368.14,19.69 L368.64,19.52 L369.13,19.37 L369.63,19.21 L370.12,19.06 L370.61,18.91 L371.11,18.76 L371.60,18.62 L372.10,18.48 L372.60,18.35 L373.09,18.22 L373.59,18.09 L374.08,17.96 L374.58,17.84 L375.07,17.72 L375.57,17.60 L376.07,17.48 L376.56,17.37 L377.06,17.26 L377.56,17.15 L378.05,17.05 L378.55,16.94 L379.05,16.84 L379.54,16.74 L380.04,16.65 L380.54,16.55 L381.04,16.46 L381.53,16.37 L382.03,16.28 L382.53,16.20 L383.03,16.11 L383.53,16.03 L384.02,15.95 L384.52,15.87 L385.02,15.80 L385.52,15.73 L386.02,15.66 L386.52,15.60 L387.02,15.53 L387.52,15.47 L388.01,15.41 L388.51,15.35 L389.01,15.30 L389.51,15.24 L390.01,15.19 L390.51,15.14 L391.01,15.09 L391.51,15.04 L392.01,14.99 L392.51,14.94 L393.01,14.90 L393.51,14.85 L394.01,14.81 L394.51,14.76 L395.01,14.72 L395.51,14.68 L396.01,14.64 L396.51,14.60 L397.00,14.57 L397.50,14.53 L398.00,14.49 L398.50,14.46 L399.00,14.42 L399.50,14.39 L400.00,14.36 L400.50,14.33 L401.00,14.30 L401.50,14.27 L402.00,14.24 L402.50,14.21 L403.00,14.18 L403.50,14.15 L404.00,14.13 L404.50,14.10 L405.00,14.08 L405.50,14.05 L406.00,14.03 L406.50,14.01 L407.00,13.99 L407.50,13.97 L408.00,13.95 L408.50,13.94 L409.00,13.92" stroke="#000" stroke-width="1.5"/>
</g>
</g>
<rect x="70.65" y="6.0" width="336.54999999999995" height="258.5" fill="none" stroke="#000" stroke-width="1.85"/>
<path d="M70.65,19.8h4.3 M70.65,80.55h4.3 M70.65,141.3h4.3 M70.65,202.05h4.3 M84.8,264.5v-4.3 M132.9,264.5v-4.3 M181.0,264.5v-4.3 M229.1,264.5v-4.3 M277.2,264.5v-4.3 M325.3,264.5v-4.3 M373.4,264.5v-4.3 M407.2,211.65h-4.5 M407.2,160.70h-4.5 M407.2,109.75h-4.5 M407.2,58.80h-4.5" stroke="#000" stroke-width="1.65" fill="none"/>
<text transform="translate(63.8,24.95) scale(0.975,1)" font-size="18.2" text-anchor="end">0.02</text>
<text transform="translate(63.8,85.7) scale(0.975,1)" font-size="18.2" text-anchor="end">0.015</text>
<text transform="translate(63.8,146.45) scale(0.975,1)" font-size="18.2" text-anchor="end">0.01</text>
<text transform="translate(63.8,207.2) scale(0.975,1)" font-size="18.2" text-anchor="end">0.005</text>
<text transform="translate(63.8,267.95) scale(0.975,1)" font-size="18.2" text-anchor="end">0</text>
<text transform="translate(415.55,267.4) scale(0.94,1)" font-size="18.2" fill="#8b0000">0</text>
<text transform="translate(415.55,216.45) scale(0.94,1)" font-size="18.2" fill="#8b0000">5</text>
<text transform="translate(415.55,165.5) scale(0.94,1)" font-size="18.2" fill="#8b0000">10</text>
<text transform="translate(415.55,114.55) scale(0.94,1)" font-size="18.2" fill="#8b0000">15</text>
<text transform="translate(415.55,63.6) scale(0.94,1)" font-size="18.2" fill="#8b0000">20</text>
<text transform="translate(415.55,12.65) scale(0.94,1)" font-size="18.2" fill="#8b0000">25</text>
<text transform="translate(72.15,288.9) scale(0.975,1)" font-size="18.2">10</text>
<text transform="translate(90.0,282.75) scale(0.92,1)" font-size="11.8">-4</text>
<text transform="translate(120.25,288.9) scale(0.975,1)" font-size="18.2">10</text>
<text transform="translate(138.1,282.75) scale(0.92,1)" font-size="11.8">-3</text>
<text transform="translate(168.35,288.9) scale(0.975,1)" font-size="18.2">10</text>
<text transform="translate(186.2,282.75) scale(0.92,1)" font-size="11.8">-2</text>
<text transform="translate(216.45,288.9) scale(0.975,1)" font-size="18.2">10</text>
<text transform="translate(234.3,282.75) scale(0.92,1)" font-size="11.8">-1</text>
<text transform="translate(265.6,288.9) scale(0.975,1)" font-size="18.2">10</text>
<text transform="translate(283.85,282.5) scale(0.9,1)" font-size="12.6">0</text>
<text transform="translate(313.7,288.9) scale(0.975,1)" font-size="18.2">10</text>
<text transform="translate(331.95,282.5) scale(0.9,1)" font-size="12.6">1</text>
<text transform="translate(361.8,288.9) scale(0.975,1)" font-size="18.2">10</text>
<text transform="translate(380.05,282.5) scale(0.9,1)" font-size="12.6">2</text>
<text transform="translate(16.8,146.4) rotate(-90) scale(1.035,1)" font-size="25.6">Γ</text>
<text transform="translate(455.5,150) rotate(-90)" font-size="25" fill="#8b0000" class="i">F<tspan font-size="17" dy="4" dx="1.7">Q</tspan></text>
<text x="209.1" y="318.4" font-size="24" class="s">g</text>
<text x="221.5" y="320.4" font-size="28.5">/</text>
<text transform="translate(229.9,318.4) scale(1.1,1)" font-size="24" class="i">E</text>
<text x="245.4" y="321.7" font-size="17.8">0</text>
<text transform="translate(254.9,318.4) scale(1.1,1)" font-size="24" class="i">L</text>
<rect x="327.2" y="117.8" width="75.10000000000002" height="105.7" fill="#fff" stroke="none"/>
<defs><clipPath id="ci"><rect x="327.2" y="117.8" width="75.10000000000002" height="105.7"/></clipPath></defs>
<path d="M327.20,217.45 L327.60,217.36 L328.00,217.27 L328.40,217.18 L328.80,217.09 L329.20,216.99 L329.60,216.89 L330.00,216.79 L330.40,216.68 L330.80,216.57 L331.20,216.46 L331.60,216.34 L332.00,216.21 L332.40,216.09 L332.80,215.96 L333.20,215.82 L333.60,215.68 L334.00,215.54 L334.40,215.38 L334.80,215.23 L335.20,215.07 L335.60,214.90 L336.00,214.72 L336.40,214.54 L336.80,214.35 L337.20,214.16 L337.60,213.95 L338.00,213.74 L338.40,213.52 L338.80,213.29 L339.20,213.05 L339.60,212.80 L340.00,212.53 L340.40,212.26 L340.80,211.98 L341.20,211.68 L341.60,211.37 L342.00,211.04 L342.40,210.70 L342.80,210.34 L343.20,209.97 L343.60,209.58 L344.00,209.17 L344.40,208.73 L344.80,208.28 L345.20,207.80 L345.60,207.30 L346.00,206.77 L346.40,206.22 L346.80,205.63 L347.20,205.01 L347.60,204.36 L348.00,203.67 L348.40,202.95 L348.80,202.18 L349.20,201.36 L349.60,200.50 L350.00,199.59 L350.40,198.62 L350.80,197.60 L351.20,196.51 L351.60,195.35 L352.00,194.13 L352.40,192.82 L352.80,191.44 L353.20,189.96 L353.60,188.40 L354.00,186.73 L354.40,184.96 L354.80,183.08 L355.20,181.08 L355.60,178.96 L356.00,176.71 L356.40,174.33 L356.80,171.82 L357.20,169.17 L357.60,166.38 L358.00,163.45 L358.40,160.40 L358.80,157.22 L359.20,153.95 L359.60,150.58 L360.00,147.16 L360.40,143.72 L360.80,140.29 L361.20,136.93 L361.60,133.68 L362.00,130.62 L362.40,127.80 L362.80,125.30 L363.20,123.17 L363.60,121.48 L364.00,120.27 L364.40,119.59 L364.80,119.45 L365.20,119.87 L365.60,120.81 L366.00,122.27 L366.40,124.19 L366.80,126.51 L367.20,129.18 L367.60,132.13 L368.00,135.29 L368.40,138.60 L368.80,142.00 L369.20,145.44 L369.60,148.88 L370.00,152.27 L370.40,155.60 L370.80,158.82 L371.20,161.94 L371.60,164.93 L372.00,167.79 L372.40,170.51 L372.80,173.09 L373.20,175.54 L373.60,177.85 L374.00,180.04 L374.40,182.10 L374.80,184.04 L375.20,185.86 L375.60,187.58 L376.00,189.19 L376.40,190.71 L376.80,192.14 L377.20,193.48 L377.60,194.75 L378.00,195.94 L378.40,197.06 L378.80,198.12 L379.20,199.11 L379.60,200.05 L380.00,200.94 L380.40,201.78 L380.80,202.57 L381.20,203.31 L381.60,204.02 L382.00,204.69 L382.40,205.33 L382.80,205.93 L383.20,206.50 L383.60,207.04 L384.00,207.56 L384.40,208.04 L384.80,208.51 L385.20,208.95 L385.60,209.37 L386.00,209.78 L386.40,210.16 L386.80,210.52 L387.20,210.87 L387.60,211.21 L388.00,211.52 L388.40,211.83 L388.80,212.12 L389.20,212.40 L389.60,212.67 L390.00,212.92 L390.40,213.17 L390.80,213.40 L391.20,213.63 L391.60,213.85 L392.00,214.05 L392.40,214.25 L392.80,214.45 L393.20,214.63 L393.60,214.81 L394.00,214.98 L394.40,215.15 L394.80,215.31 L395.20,215.46 L395.60,215.61 L396.00,215.75 L396.40,215.89 L396.80,216.02 L397.20,216.15 L397.60,216.28 L398.00,216.40 L398.40,216.51 L398.80,216.63 L399.20,216.73 L399.60,216.84 L400.00,216.94 L400.40,217.04 L400.80,217.14 L401.20,217.23 L401.60,217.32 L402.00,217.41" clip-path="url(#ci)" stroke="#000" stroke-width="1.3" fill="none"/>
<rect x="327.2" y="117.8" width="75.10000000000002" height="105.7" fill="none" stroke="#000" stroke-width="1.6"/>
<path d="M327.2,201.6h4 M327.2,180.9h4 M327.2,160.3h4 M327.2,139.7h4 M336.0,223.5v-4 M364.7,223.5v-4 M393.35,223.5v-4" stroke="#000" stroke-width="1.65" fill="none"/>
<text transform="translate(320.6,226.35) scale(0.98,1)" font-size="13.6" text-anchor="end">0</text>
<text transform="translate(320.6,205.72) scale(0.98,1)" font-size="13.6" text-anchor="end">5</text>
<text transform="translate(320.6,185.08) scale(0.98,1)" font-size="13.6" text-anchor="end">10</text>
<text transform="translate(320.6,164.44) scale(0.98,1)" font-size="13.6" text-anchor="end">15</text>
<text transform="translate(320.6,143.81) scale(0.98,1)" font-size="13.6" text-anchor="end">20</text>
<text transform="translate(320.6,123.17) scale(0.98,1)" font-size="13.6" text-anchor="end">25</text>
<text transform="translate(336.0,240.6) scale(0.965,1)" font-size="13.6" text-anchor="middle">-0.01</text>
<text transform="translate(364.45,240.6) scale(0.965,1)" font-size="13.6" text-anchor="middle">0.00</text>
<text transform="translate(393.5,240.6) scale(0.965,1)" font-size="13.6" text-anchor="middle">0.01</text>
<text x="349.6" y="259.8" font-size="17.3">Ω-π</text>
<text transform="translate(302.3,178.3) rotate(-90)" font-size="17" class="i">F<tspan font-size="11.4" dy="2.3" dx="-1.1">Q</tspan></text>
<text transform="translate(360.8,167.9) scale(1.07,1)" font-size="13.6">Γ</text>
<path d="M358.5,171.3H370.5" stroke="#000" stroke-width="1.0" fill="none"/>
<path d="M356.7,171.3l4.8,-1.75l-0.9,1.75l0.9,1.75z M372.4,171.3l-4.8,-1.75l0.9,1.75l-0.9,1.75z" fill="#000"/>
</svg>
</body></html>
